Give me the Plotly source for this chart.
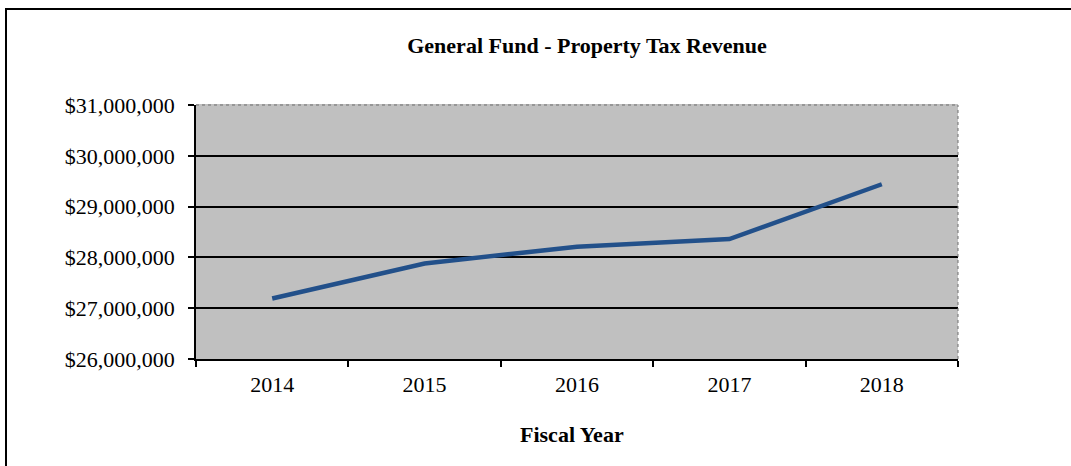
import plotly.graph_objects as go

years = ["2014", "2015", "2016", "2017", "2018"]
revenue = [27190000, 27880000, 28210000, 28360000, 29440000]
y_ticks = [26000000, 27000000, 28000000, 29000000, 30000000, 31000000]
y_labels = ["$26,000,000", "$27,000,000", "$28,000,000", "$29,000,000", "$30,000,000", "$31,000,000"]

W, H = 1071, 466
L, R, T, B = 196, 958, 105, 359
pw, ph = R - L, B - T

def px(x):
    return (x - L) / pw

def py(y):
    return (B - y) / ph

FONT = "Liberation Serif, Times New Roman, serif"

fig = go.Figure()
fig.add_trace(go.Scatter(
    x=years, y=revenue, mode="lines",
    line=dict(color="#22508A", width=4.5),
    hoverinfo="x+y", showlegend=False,
))

fig.update_layout(
    width=W, height=H,
    margin=dict(l=L, r=W - R, t=T, b=H - B, pad=0),
    paper_bgcolor="white",
    plot_bgcolor="#C0C0C0",
    font=dict(family=FONT, size=22, color="black"),
    title=dict(
        text="<b>General Fund - Property Tax Revenue</b>",
        xref="container", yref="container",
        x=587 / W, y=1 - 45 / H, xanchor="center", yanchor="middle",
        font=dict(family=FONT, size=22, color="black"),
    ),
    xaxis=dict(
        type="category",
        range=[-0.5, len(years) - 0.5],
        showgrid=False,
        showline=True, linecolor="black", linewidth=1.5,
        ticks="outside", ticklen=6, tickwidth=1.5, tickcolor="black",
        tickson="boundaries",
        ticklabelstandoff=5,
        tickfont=dict(family=FONT, size=22, color="black"),
        zeroline=False,
    ),
    yaxis=dict(
        range=[26000000, 31000000],
        tickvals=y_ticks, ticktext=y_labels,
        showgrid=True, gridcolor="black", gridwidth=1.5,
        showline=True, linecolor="black", linewidth=1.5,
        ticks="outside", ticklen=6, tickwidth=1.5, tickcolor="black",
        ticklabelstandoff=9,
        tickfont=dict(family=FONT, size=22, color="black"),
        zeroline=False,
    ),
    shapes=[
        # plot area top & right border (dotted gray)
        dict(type="line", xref="paper", yref="paper", x0=0, x1=1, y0=1, y1=1,
             line=dict(color="#C0C0C0", width=2), layer="above"),
        dict(type="line", xref="paper", yref="paper", x0=0, x1=1, y0=1, y1=1,
             line=dict(color="#6E6E6E", width=1, dash="dot"), layer="above"),
        dict(type="line", xref="paper", yref="paper", x0=1, x1=1, y0=0, y1=1,
             line=dict(color="#6E6E6E", width=1, dash="dot"), layer="above"),
        # outer chart border
        dict(type="rect", xref="paper", yref="paper",
             x0=px(6), x1=px(W + 10), y0=py(H + 10), y1=py(9),
             line=dict(color="black", width=2), fillcolor="rgba(0,0,0,0)",
             layer="below"),
    ],
    annotations=[
        dict(text="<b>Fiscal Year</b>", xref="paper", yref="paper",
             x=px(572), y=py(434), xanchor="center", yanchor="middle",
             showarrow=False, font=dict(family=FONT, size=22, color="black")),
    ],
)

fig.write_html("out.html", config={"displayModeBar": False},
               post_script="document.body.style.margin='0';")
